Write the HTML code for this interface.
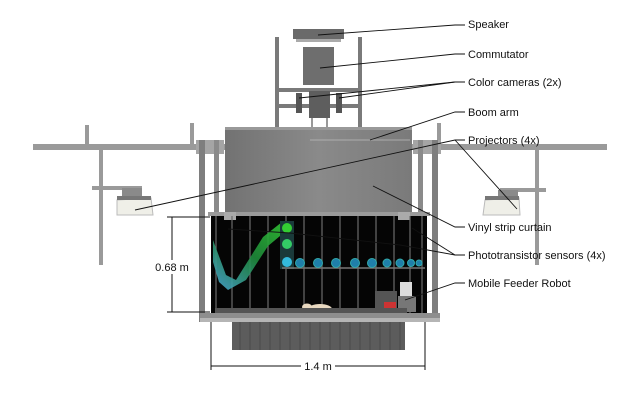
<!DOCTYPE html>
<html><head><meta charset="utf-8"><style>
html,body{margin:0;padding:0;background:#fff;}
svg{display:block;}
text{font-family:"Liberation Sans",sans-serif;font-size:11px;fill:#111;}
</style></head><body>
<svg width="640" height="408" viewBox="0 0 640 408" xmlns="http://www.w3.org/2000/svg">
<defs>
<linearGradient id="boom" x1="0" x2="1" y1="0" y2="0">
<stop offset="0" stop-color="#727272"/><stop offset="0.5" stop-color="#8a8a8a"/><stop offset="1" stop-color="#7a7a7a"/>
</linearGradient>
<linearGradient id="tube" x1="0" x2="1" y1="1" y2="0">
<stop offset="0" stop-color="#4aa8d8"/><stop offset="0.5" stop-color="#1e8a3a"/><stop offset="1" stop-color="#33cc33"/>
</linearGradient>
</defs>
<rect x="33" y="144" width="574" height="6" fill="#9a9a9a"/>
<rect x="85" y="125" width="4" height="20" fill="#9a9a9a"/>
<rect x="190" y="123" width="4" height="22" fill="#9a9a9a"/>
<rect x="437" y="123" width="4" height="22" fill="#9a9a9a"/>
<rect x="196" y="140" width="28" height="14" fill="#a5a5a5"/>
<rect x="413" y="140" width="28" height="14" fill="#a5a5a5"/>
<rect x="99" y="150" width="4" height="115" fill="#9a9a9a"/>
<rect x="535" y="150" width="4" height="115" fill="#9a9a9a"/>
<rect x="92" y="186" width="50" height="4" fill="#9a9a9a"/>
<rect x="500" y="188" width="46" height="4" fill="#9a9a9a"/>
<rect x="122" y="188" width="20" height="8" fill="#8a8a8a"/>
<path d="M117 200 L151 198 L153 215 L117 215 Z" fill="#efefe8" stroke="#bbb" stroke-width="1"/>
<rect x="117" y="196" width="34" height="4" fill="#777"/>
<rect x="498" y="190" width="20" height="8" fill="#8a8a8a"/>
<path d="M485 200 L519 198 L520 215 L483 215 Z" fill="#efefe8" stroke="#bbb" stroke-width="1"/>
<rect x="485" y="196" width="34" height="4" fill="#777"/>
<rect x="199" y="140" width="6" height="182" fill="#7e7e7e"/>
<rect x="214" y="140" width="5" height="80" fill="#8a8a8a"/>
<rect x="418" y="140" width="5" height="80" fill="#8a8a8a"/>
<rect x="432" y="140" width="6" height="182" fill="#7e7e7e"/>
<rect x="275" y="37" width="4" height="90" fill="#7a7a7a"/>
<rect x="358" y="37" width="4" height="90" fill="#7a7a7a"/>
<rect x="277" y="88" width="83" height="4" fill="#7a7a7a"/>
<rect x="277" y="104" width="83" height="4" fill="#7a7a7a"/>
<rect x="293" y="29" width="51" height="10" fill="#6a6a6a"/>
<rect x="296" y="39" width="45" height="3" fill="#aaa"/>
<rect x="303" y="47" width="31" height="38" fill="#6e6e6e"/>
<rect x="309" y="91" width="21" height="27" fill="#5e5e5e"/>
<rect x="296" y="93" width="6" height="20" fill="#555"/>
<rect x="336" y="93" width="6" height="20" fill="#555"/>
<rect x="311" y="118" width="2" height="10" fill="#999"/>
<rect x="326" y="118" width="2" height="10" fill="#999"/>
<rect x="225" y="127" width="187" height="89" fill="url(#boom)"/>
<rect x="225" y="127" width="187" height="3" fill="#999"/>
<line x1="310" y1="140" x2="410" y2="140" stroke="#bbb" stroke-width="0.7"/>
<rect x="211" y="215" width="216" height="101" fill="#050505"/>
<rect x="208" y="212" width="222" height="4" fill="#9a9a9a"/>
<rect x="224" y="212" width="12" height="8" fill="#aaa"/>
<rect x="398" y="212" width="12" height="8" fill="#aaa"/>
<g stroke="#6a6a6a" stroke-width="1.2">
<line x1="216" y1="216" x2="216" y2="314"/><line x1="232" y1="216" x2="232" y2="314"/>
<line x1="250" y1="216" x2="250" y2="314"/><line x1="268" y1="216" x2="268" y2="314"/>
<line x1="286" y1="216" x2="286" y2="314"/><line x1="304" y1="216" x2="304" y2="314"/>
<line x1="322" y1="216" x2="322" y2="314"/><line x1="340" y1="216" x2="340" y2="314"/>
<line x1="358" y1="216" x2="358" y2="314"/><line x1="376" y1="216" x2="376" y2="314"/>
<line x1="394" y1="216" x2="394" y2="314"/><line x1="410" y1="216" x2="410" y2="314"/>
<line x1="422" y1="216" x2="422" y2="314"/>
</g>
<path d="M213 240 L226 275 L236 280 L263 237 L282 222 L293 222 L280 236 L268 246 L246 280 L228 290 L219 282 L213 262 Z" fill="url(#tube)" opacity="0.9"/>
<rect x="280" y="221" width="14" height="48" fill="#1a3a3a"/>
<line x1="282" y1="268" x2="425" y2="268" stroke="#777" stroke-width="1.5"/>
<circle cx="287" cy="228" r="5" fill="#3c3"/>
<circle cx="287" cy="244" r="5" fill="#3c6"/>
<circle cx="287" cy="262" r="5" fill="#3bd"/>
<g fill="#1f7faa" stroke="#3aa" stroke-width="1">
<circle cx="300" cy="263" r="4.5"/><circle cx="318" cy="263" r="4.5"/><circle cx="336" cy="263" r="4.5"/>
<circle cx="355" cy="263" r="4.5"/><circle cx="372" cy="263" r="4.5"/><circle cx="387" cy="263" r="4"/>
<circle cx="400" cy="263" r="4"/><circle cx="411" cy="263" r="3.5"/><circle cx="419" cy="263" r="3"/>
</g>
<rect x="375" y="291" width="22" height="18" fill="#555"/>
<rect x="400" y="282" width="12" height="14" fill="#ddd"/>
<rect x="398" y="296" width="18" height="16" fill="#777"/>
<rect x="384" y="302" width="12" height="8" fill="#c33"/>
<ellipse cx="320" cy="309" rx="12" ry="5" fill="#e8d8c0"/>
<ellipse cx="307" cy="307" rx="5" ry="3.5" fill="#e8d8c0"/>
<line x1="331" y1="311" x2="346" y2="313" stroke="#caa" stroke-width="1"/>
<rect x="215" y="308" width="192" height="6" fill="#555"/>
<rect x="200" y="313" width="240" height="5" fill="#8e8e8e"/>
<rect x="200" y="318" width="240" height="4" fill="#b5b5b5"/>
<rect x="232" y="322" width="173" height="28" fill="#5c5c5c"/>
<g stroke="#4a4a4a" stroke-width="1">
<line x1="240" y1="322" x2="240" y2="350"/><line x1="250" y1="322" x2="250" y2="350"/><line x1="260" y1="322" x2="260" y2="350"/>
<line x1="270" y1="322" x2="270" y2="350"/><line x1="280" y1="322" x2="280" y2="350"/><line x1="290" y1="322" x2="290" y2="350"/>
<line x1="300" y1="322" x2="300" y2="350"/><line x1="310" y1="322" x2="310" y2="350"/><line x1="320" y1="322" x2="320" y2="350"/>
<line x1="330" y1="322" x2="330" y2="350"/><line x1="340" y1="322" x2="340" y2="350"/><line x1="350" y1="322" x2="350" y2="350"/>
<line x1="360" y1="322" x2="360" y2="350"/><line x1="370" y1="322" x2="370" y2="350"/><line x1="380" y1="322" x2="380" y2="350"/>
<line x1="390" y1="322" x2="390" y2="350"/><line x1="400" y1="322" x2="400" y2="350"/>
</g>
<g stroke="#111" stroke-width="1" fill="none">
<line x1="172" y1="217" x2="172" y2="312"/>
<line x1="167" y1="217" x2="210" y2="217"/>
<line x1="167" y1="312" x2="210" y2="312"/>
<line x1="211" y1="322" x2="211" y2="370"/>
<line x1="425" y1="322" x2="425" y2="370"/>
<line x1="211" y1="366" x2="425" y2="366"/>
</g>
<rect x="152" y="260" width="40" height="14" fill="#fff"/>
<text x="172" y="271" text-anchor="middle">0.68 m</text>
<rect x="301" y="359" width="34" height="14" fill="#fff"/>
<text x="318" y="370" text-anchor="middle">1.4 m</text>
<g stroke="#111" stroke-width="0.9" fill="none">
<polyline points="318,35 455,25 465,25"/>
<polyline points="320,68 455,54 465,54"/>
<polyline points="299,98 455,82 465,82"/>
<polyline points="339,98 455,82"/>
<polyline points="370,140 455,112 465,112"/>
<polyline points="135,210 455,140 465,140"/>
<polyline points="517,209 455,140"/>
<polyline points="373,186 455,227 465,227"/>
<polyline points="228,229 290,233 400,245 455,255 465,255"/>
<polyline points="412,228 455,255"/>
<polyline points="405,300 455,283 465,283"/>
</g>
<text x="468" y="28">Speaker</text>
<text x="468" y="58">Commutator</text>
<text x="468" y="86">Color cameras (2x)</text>
<text x="468" y="116">Boom arm</text>
<text x="468" y="144">Projectors (4x)</text>
<text x="468" y="231">Vinyl strip curtain</text>
<text x="468" y="259">Phototransistor sensors (4x)</text>
<text x="468" y="287">Mobile Feeder Robot</text>
</svg>
</body></html>
